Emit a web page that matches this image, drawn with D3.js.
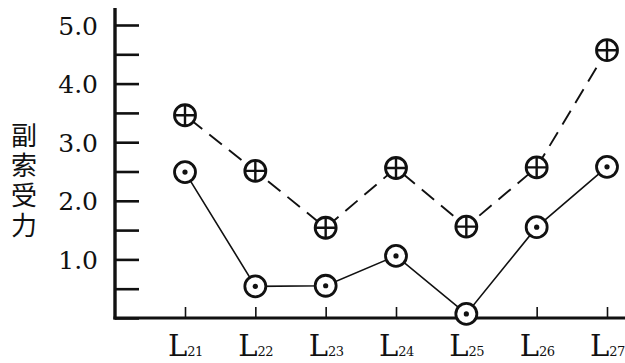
<!DOCTYPE html>
<html>
<head>
<meta charset="utf-8">
<script src="https://cdn.jsdelivr.net/npm/d3@7"></script>
<style>
  body { margin: 0; background: #fff; }
  svg { display: block; }
</style>
</head>
<body>
<div id="wrapper"></div>
<script>
// data
const categories = ["21", "22", "23", "24", "25", "26", "27"]
const plusSeries = [3.46, 2.51, 1.54, 2.56, 1.56, 2.57, 4.57]   // dashed, crossed circles
const dotSeries = [2.49, 0.54, 0.55, 1.06, 0.07, 1.55, 2.58]    // solid, dotted circles
const yTickValues = [0, 0.5, 1, 1.5, 2, 2.5, 3, 3.5, 4, 4.5, 5]
const yLabelValues = [1, 2, 3, 4, 5]
const yTitle = "副索受力"

const dimensions = {
  width: 625,
  height: 363,
  axisX: 115,
  axisY: 318,
}

const svg = d3.select("#wrapper")
  .append("svg")
    .attr("width", dimensions.width)
    .attr("height", dimensions.height)

// scales
const xScale = d3.scalePoint()
  .domain(categories)
  .range([185, 607])

const yScale = d3.scaleLinear()
  .domain([0, 5])
  .range([dimensions.axisY, 25])

const serif = "'DejaVu Serif', 'Liberation Serif', serif"

// y axis ticks (pointing right, no labels)
const yTicks = svg.append("g")
    .attr("transform", `translate(${dimensions.axisX},0)`)
    .call(d3.axisRight(yScale).tickValues(yTickValues).tickSizeInner(24).tickSizeOuter(0).tickFormat(""))
yTicks.select(".domain").remove()
yTicks.selectAll("line").attr("stroke", "#111").attr("stroke-width", 2.6)

// y tick labels
const yLabels = svg.append("g")
    .attr("transform", `translate(${dimensions.axisX},0)`)
    .call(d3.axisLeft(yScale).tickValues(yLabelValues).tickSize(0).tickPadding(17).tickFormat(d3.format(".1f")))
yLabels.select(".domain").remove()
yLabels.selectAll("text")
    .attr("font-family", serif)
    .attr("font-size", 25)
    .attr("fill", "#111")
    .attr("dy", "0.36em")

// x axis ticks (pointing up)
const xTicks = svg.append("g")
    .attr("transform", `translate(0,${dimensions.axisY})`)
    .call(d3.axisTop(xScale).tickSizeInner(11).tickSizeOuter(0).tickFormat(""))
xTicks.select(".domain").remove()
xTicks.selectAll("line").attr("stroke", "#111").attr("stroke-width", 1.6)

// axis lines
svg.append("line")
    .attr("x1", dimensions.axisX).attr("x2", dimensions.axisX)
    .attr("y1", 8).attr("y2", dimensions.axisY + 1.5)
    .attr("stroke", "#111").attr("stroke-width", 3.4)
svg.append("line")
    .attr("x1", dimensions.axisX - 1.5).attr("x2", dimensions.width)
    .attr("y1", dimensions.axisY).attr("y2", dimensions.axisY)
    .attr("stroke", "#111").attr("stroke-width", 3)

// x labels: L with subscript
const xLabel = svg.append("g").selectAll("text")
  .data(categories)
  .join("text")
    .attr("x", d => xScale(d) - 17)
    .attr("y", 356)
    .attr("font-family", serif)
    .attr("fill", "#111")
xLabel.append("tspan")
    .attr("font-size", 29)
    .text("L")
xLabel.append("tspan")
    .attr("font-size", 13)
    .attr("letter-spacing", -0.5)
    .text(d => d)

// y title, vertical
svg.append("text")
    .attr("x", 24)
    .attr("y", 122)
    .attr("font-family", "'Noto Sans CJK SC', sans-serif")
    .attr("font-size", 26)
    .attr("letter-spacing", 4)
    .attr("fill", "#111")
    .style("writing-mode", "vertical-rl")
    .text(yTitle)

// lines
const lineGen = d3.line()
  .x((d, i) => xScale(categories[i]))
  .y(d => yScale(d))

svg.append("path")
    .attr("d", lineGen(plusSeries))
    .attr("fill", "none")
    .attr("stroke", "#111")
    .attr("stroke-width", 1.9)
    .attr("stroke-dasharray", "16 9")
    .attr("stroke-dashoffset", -6)

svg.append("path")
    .attr("d", lineGen(dotSeries))
    .attr("fill", "none")
    .attr("stroke", "#111")
    .attr("stroke-width", 1.6)

const r = 10.5

// crossed circle markers
const plusMarks = svg.append("g").selectAll("g")
  .data(plusSeries)
  .join("g")
    .attr("transform", (d, i) => `translate(${xScale(categories[i])},${yScale(d)})`)
plusMarks.append("circle")
    .attr("r", r)
    .attr("fill", "#fff")
    .attr("stroke", "#111")
    .attr("stroke-width", 2.8)
plusMarks.append("path")
    .attr("d", `M${-r},0H${r}M0,${-r}V${r}`)
    .attr("stroke", "#111")
    .attr("stroke-width", 2.4)

// dotted circle markers
const dotMarks = svg.append("g").selectAll("g")
  .data(dotSeries)
  .join("g")
    .attr("transform", (d, i) => `translate(${xScale(categories[i])},${yScale(d)})`)
dotMarks.append("circle")
    .attr("r", r)
    .attr("fill", "#fff")
    .attr("stroke", "#111")
    .attr("stroke-width", 2.8)
dotMarks.append("circle")
    .attr("r", 2.6)
    .attr("fill", "#111")
</script>
</body>
</html>
